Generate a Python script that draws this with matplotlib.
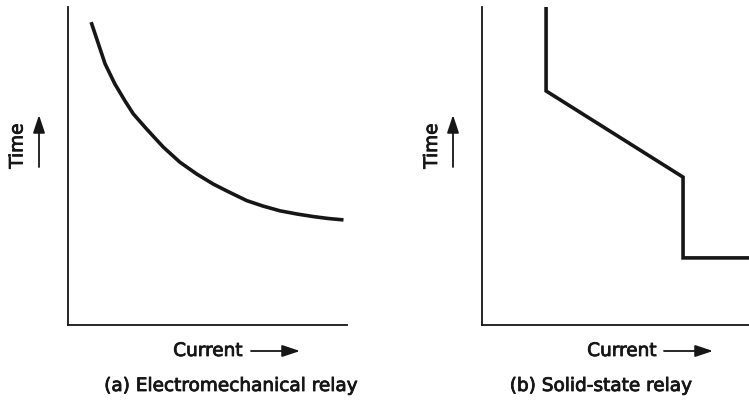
import matplotlib
matplotlib.use('Agg')
import matplotlib.pyplot as plt
from matplotlib.patches import FancyArrowPatch
import matplotlib.patheffects as pe

# electromechanical relay: inverse-time curve
em_current = [8.5, 10.9, 13.3, 16.8, 20.4, 23.4, 28.2, 34.2, 40.1, 46.1,
              52.1, 57.5, 64.1, 69.9, 76.0, 82.1, 87.9, 93.2, 98.1]
em_time = [94.7, 88.4, 82.1, 75.8, 70.5, 66.4, 61.6, 55.9, 51.2, 47.5,
           44.3, 41.9, 39.1, 37.4, 35.9, 34.9, 34.1, 33.5, 33.1]

# solid-state relay: piecewise characteristic
ss_current = [24.0, 24.0, 75.3, 75.3, 100.0]
ss_time = [100.0, 73.6, 46.5, 21.1, 21.1]

captions = ['(a) Electromechanical relay', '(b) Solid-state relay']
W, H = 749, 402
FS = 13.3
INK = '#161616'


def fx(px):
    return px / W


def fy(py):
    return 1 - py / H


plt.rcParams['font.family'] = 'DejaVu Sans'
fig = plt.figure(figsize=(W / 100, H / 100), dpi=100)

ax1 = fig.add_axes([fx(68), fy(326), fx(347 - 68), (326 - 8) / H])
ax2 = fig.add_axes([fx(482), fy(326), fx(749 - 482), (326 - 8) / H])

ax1.plot(em_current, em_time, color=INK, lw=2.6, solid_joinstyle='round')
ax2.plot(ss_current, ss_time, color=INK, lw=2.6, solid_joinstyle='miter')

for ax in (ax1, ax2):
    ax.set_xlim(0, 100)
    ax.set_ylim(0, 100)
    ax.set_xticks([])
    ax.set_yticks([])
    for s in ('top', 'right'):
        ax.spines[s].set_visible(False)
    for s in ('left', 'bottom'):
        ax.spines[s].set_linewidth(1.3)
        ax.spines[s].set_color(INK)
    ax.patch.set_alpha(0)

heavy = [pe.withStroke(linewidth=0.6, foreground=INK)]


def arrow(p0, p1):
    fig.add_artist(FancyArrowPatch(
        p0, p1, transform=fig.transFigure,
        arrowstyle='-|>,head_length=0.9,head_width=0.3',
        color=INK, lw=1.3, shrinkA=0, shrinkB=0, mutation_scale=12))


# axis labels with arrows, left and right panels
for tx, ax_arrow, cx, cur_arrow, capx, cap in [
        (17.5, 39, 208, (251, 300), 231, captions[0]),
        (432, 453, 622, (664, 713), 601, captions[1])]:
    fig.text(fx(tx), fy(147), 'Time', rotation=90, fontsize=FS,
             ha='center', va='center', color=INK, path_effects=heavy)
    arrow((fx(ax_arrow), fy(168)), (fx(ax_arrow), fy(116)))
    fig.text(fx(cx), fy(352), 'Current', fontsize=FS,
             ha='center', va='center', color=INK, path_effects=heavy)
    arrow((fx(cur_arrow[0]), fy(352)), (fx(cur_arrow[1]), fy(352)))
    fig.text(fx(capx), fy(387), cap, fontsize=FS, ha='center', va='center',
             color=INK, path_effects=heavy)

plt.savefig('out.png', dpi=100)
